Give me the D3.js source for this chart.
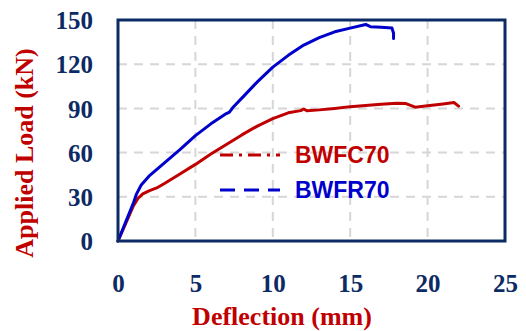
<!DOCTYPE html>
<html>
<head>
<meta charset="utf-8">
<script src="https://cdn.jsdelivr.net/npm/d3@7"></script>
<style>
  html, body { margin: 0; padding: 0; background: #fff; }
  svg { display: block; }
</style>
</head>
<body>
<svg id="chart" width="526" height="331"></svg>
<script>
// ---- Data ----
const xTicks = [0, 5, 10, 15, 20, 25];
const yTicks = [0, 30, 60, 90, 120, 150];
const seriesNames = ["BWFC70", "BWFR70"];

const bwfc70Deflection = [0, 0.5, 1.0, 1.3, 1.6, 2.0, 2.5, 3, 4, 5, 6, 7, 8, 9, 10, 11, 11.8, 12, 12.2, 13, 14, 15, 16, 17, 18, 18.6, 19.2, 20, 21, 21.7, 22];
const bwfc70Load       = [0, 12, 24, 29, 32, 34, 36, 39, 45.5, 52, 59, 65.5, 72, 78, 83, 87, 88.5, 89.6, 88.4, 89, 90, 91.2, 92, 92.8, 93.5, 93.3, 90.8, 91.8, 93, 94, 91.5];

const bwfr70Deflection = [0, 0.5, 1.0, 1.2, 1.5, 2, 3, 4, 5, 6, 7, 7.2, 7.45, 8, 9, 10, 11, 12, 13, 14, 15, 16, 16.3, 17, 17.7, 17.8, 17.8];
const bwfr70Load       = [0, 13, 26, 32, 38, 44, 53, 62, 71.5, 79.5, 86.5, 87.5, 91, 97, 108, 118, 126, 133, 138, 142, 144.5, 147, 145.5, 145, 144.5, 141, 137.5];

// ---- Layout ----
const svg = d3.select("#chart");
const L = 118, R = 505, T = 20, B = 241;
const navy = "#0c2a63";
const red = "#c00000";
const blue = "#0000cc";
const serif = "'Liberation Serif', 'Times New Roman', serif";

const x = d3.scaleLinear().domain([0, 25]).range([L, R]);
const y = d3.scaleLinear().domain([0, 150]).range([B, T]);

// grid
const grid = svg.append("g");
grid.selectAll("line.v").data(xTicks.filter(d => d > 0 && d < 25)).enter().append("line")
  .attr("x1", d => x(d)).attr("x2", d => x(d)).attr("y1", T).attr("y2", B)
  .attr("stroke", "#d6d6d6").attr("stroke-width", 2).attr("stroke-dasharray", "9,7");
grid.selectAll("line.h").data(yTicks.filter(d => d > 0 && d < 150)).enter().append("line")
  .attr("y1", d => y(d)).attr("y2", d => y(d)).attr("x1", L).attr("x2", R)
  .attr("stroke", "#d6d6d6").attr("stroke-width", 2).attr("stroke-dasharray", "9,7");

function styleTicks(sel) {
  sel.attr("fill", navy)
    .style("font-family", serif).style("font-weight", "bold").style("font-size", "25px");
}

// axes (labels only)
const xAxis = d3.axisBottom(x).tickValues(xTicks).tickSize(0).tickPadding(0);
const gx = svg.append("g").attr("transform", `translate(0,${B})`).call(xAxis);
gx.select(".domain").remove();
gx.selectAll("text").attr("y", 51).attr("dy", null).call(styleTicks);

const yAxis = d3.axisLeft(y).tickValues(yTicks).tickSize(0).tickPadding(0);
const gy = svg.append("g").attr("transform", `translate(${L},0)`).call(yAxis);
gy.select(".domain").remove();
gy.selectAll("text").attr("x", -25).attr("dy", "0.35em").call(styleTicks);

// lines
const lineRaw = d3.line().x(d => x(d[0])).y(d => y(d[1]));
const redData = bwfc70Deflection.map((d, i) => [d, bwfc70Load[i]]);
const blueData = bwfr70Deflection.map((d, i) => [d, bwfr70Load[i]]);

svg.append("path").datum(redData).attr("d", lineRaw)
  .attr("fill", "none").attr("stroke", red).attr("stroke-width", 3)
  .attr("stroke-linejoin", "round").attr("stroke-linecap", "round");
svg.append("path").datum(blueData).attr("d", lineRaw)
  .attr("fill", "none").attr("stroke", blue).attr("stroke-width", 3)
  .attr("stroke-linejoin", "round").attr("stroke-linecap", "round");

// frame
svg.append("rect").attr("x", L).attr("y", T).attr("width", R - L).attr("height", B - T)
  .attr("fill", "none").attr("stroke", navy).attr("stroke-width", 3);

// legend
const legend = [
  { name: seriesNames[0], color: red, dash: "13,6,3,6", yy: 155 },
  { name: seriesNames[1], color: blue, dash: "15,9", yy: 190 }
];
const lg = svg.append("g");
legend.forEach(l => {
  lg.append("line").attr("x1", 220).attr("x2", 280).attr("y1", l.yy).attr("y2", l.yy)
    .attr("stroke", l.color).attr("stroke-width", 3).attr("stroke-dasharray", l.dash);
  lg.append("text").attr("x", 295).attr("y", l.yy).attr("dy", "0.36em")
    .text(l.name).attr("fill", l.color)
    .style("font-family", "'Liberation Sans', Arial, sans-serif")
    .style("font-weight", "bold").style("font-size", "23px");
});

// axis titles
svg.append("text").attr("x", 282).attr("y", 325).attr("text-anchor", "middle")
  .text("Deflection (mm)").attr("fill", red)
  .style("font-family", serif).style("font-weight", "bold").style("font-size", "26px");
svg.append("text").attr("transform", "translate(33,153) rotate(-90)").attr("text-anchor", "middle")
  .text("Applied Load (kN)").attr("fill", red)
  .style("font-family", serif).style("font-weight", "bold").style("font-size", "26px");
</script>
</body>
</html>
